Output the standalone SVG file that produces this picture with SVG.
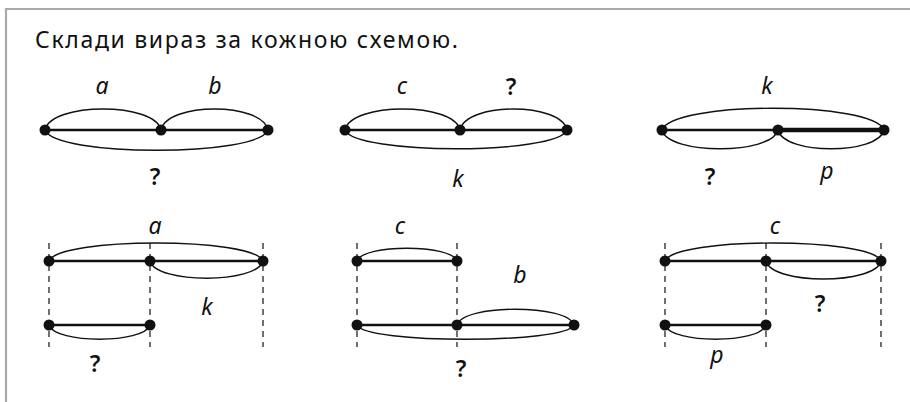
<svg xmlns="http://www.w3.org/2000/svg" width="910" height="402" viewBox="0 0 910 402">
<style>
.frame{stroke:#a9a9a9;stroke-width:2.2;fill:none}
.seg{stroke:#111;stroke-width:2.3;fill:none}
.thick{stroke:#111;stroke-width:4.5;fill:none}
.arc{stroke:#111;stroke-width:1.4;fill:none}
.dash{stroke:#111;stroke-width:1.2;stroke-dasharray:6 5;fill:none}
.dot{fill:#111}
.title{font-family:"Noto Sans","DejaVu Sans",sans-serif;font-size:23px;fill:#111}
.lbl{font-family:"Noto Sans","DejaVu Sans",sans-serif;font-size:23px;font-style:italic;fill:#111;text-anchor:middle}
.q{font-family:"Noto Sans","DejaVu Sans",sans-serif;font-size:23px;font-weight:600;fill:#111;text-anchor:middle}
</style>
<rect width="910" height="402" fill="#fff"/>
<path class="frame" d="M6,402 V9 H910"/>
<text class="title" x="35" y="48" textLength="423" lengthAdjust="spacing">Склади вираз за кожною схемою.</text>

<g id="d1">
<path class="seg" d="M45,130 H268"/>
<path class="arc" d="M45,130 C51,102 155,102 161,130"/>
<path class="arc" d="M161,130 C167,102 262,102 268,130"/>
<path class="arc" d="M45,130 C55,157 258,157 268,130"/>
<circle class="dot" cx="45" cy="130" r="5.5"/><circle class="dot" cx="161" cy="130" r="5.5"/><circle class="dot" cx="268" cy="130" r="5.5"/>
<text class="lbl" x="102" y="94">a</text><text class="lbl" x="215" y="94">b</text><text class="q" x="155" y="185">?</text>
</g>

<g id="d2">
<path class="seg" d="M345,130 H567"/>
<path class="arc" d="M345,130 C351,102 454,102 460,130"/>
<path class="arc" d="M460,130 C466,102 561,102 567,130"/>
<path class="arc" d="M345,130 C355,155 557,155 567,130"/>
<circle class="dot" cx="345" cy="130" r="5.5"/><circle class="dot" cx="460" cy="130" r="5.5"/><circle class="dot" cx="567" cy="130" r="5.5"/>
<text class="lbl" x="402" y="94">c</text><text class="q" x="511" y="95">?</text><text class="lbl" x="458" y="187">k</text>
</g>

<g id="d3">
<path class="seg" d="M662,130 H778"/>
<path class="thick" d="M778,130 H884"/>
<path class="arc" d="M662,130 C672,101 874,101 884,130"/>
<path class="arc" d="M662,130 C668,155 772,155 778,130"/>
<path class="arc" d="M778,130 C784,155 878,155 884,130"/>
<circle class="dot" cx="662" cy="130" r="5.5"/><circle class="dot" cx="778" cy="130" r="5.5"/><circle class="dot" cx="884" cy="130" r="5.5"/>
<text class="lbl" x="767" y="94">k</text><text class="q" x="710" y="185">?</text><text class="lbl" x="827" y="179">p</text>
</g>

<g id="d4">
<path class="dash" d="M49,243 V347 M150,243 V347 M263,243 V347"/>
<path class="seg" d="M49,261 H263 M49,325 H150"/>
<path class="arc" d="M49,261 C59,237 253,237 263,261"/>
<path class="arc" d="M150,261 C156,284 257,284 263,261"/>
<path class="arc" d="M49,325 C55,344 144,344 150,325"/>
<circle class="dot" cx="49" cy="261" r="5.5"/><circle class="dot" cx="150" cy="261" r="5.5"/><circle class="dot" cx="263" cy="261" r="5.5"/>
<circle class="dot" cx="49" cy="325" r="5.5"/><circle class="dot" cx="150" cy="325" r="5.5"/>
<text class="lbl" x="155" y="234">a</text><text class="lbl" x="207" y="315">k</text><text class="q" x="95" y="372">?</text>
</g>

<g id="d5">
<path class="dash" d="M357,243 V347 M457,243 V347"/>
<path class="seg" d="M357,261 H457 M357,325 H574"/>
<path class="arc" d="M357,261 C363,244 451,244 457,261"/>
<path class="arc" d="M457,325 C463,304 568,304 574,325"/>
<path class="arc" d="M357,325 C365,344 566,344 574,325"/>
<circle class="dot" cx="357" cy="261" r="5.5"/><circle class="dot" cx="457" cy="261" r="5.5"/>
<circle class="dot" cx="357" cy="325" r="5.5"/><circle class="dot" cx="457" cy="325" r="5.5"/><circle class="dot" cx="574" cy="325" r="5.5"/>
<text class="lbl" x="400" y="234">c</text><text class="lbl" x="520" y="283">b</text><text class="q" x="461" y="377">?</text>
</g>

<g id="d6">
<path class="dash" d="M665,243 V347 M766,243 V347 M881,243 V347"/>
<path class="seg" d="M665,261 H881 M665,325 H766"/>
<path class="arc" d="M665,261 C675,237 871,237 881,261"/>
<path class="arc" d="M766,261 C772,285 875,285 881,261"/>
<path class="arc" d="M665,325 C671,344 760,344 766,325"/>
<circle class="dot" cx="665" cy="261" r="5.5"/><circle class="dot" cx="766" cy="261" r="5.5"/><circle class="dot" cx="881" cy="261" r="5.5"/>
<circle class="dot" cx="665" cy="325" r="5.5"/><circle class="dot" cx="766" cy="325" r="5.5"/>
<text class="lbl" x="775" y="234">c</text><text class="q" x="820" y="312">?</text><text class="lbl" x="717" y="363">p</text>
</g>
</svg>
